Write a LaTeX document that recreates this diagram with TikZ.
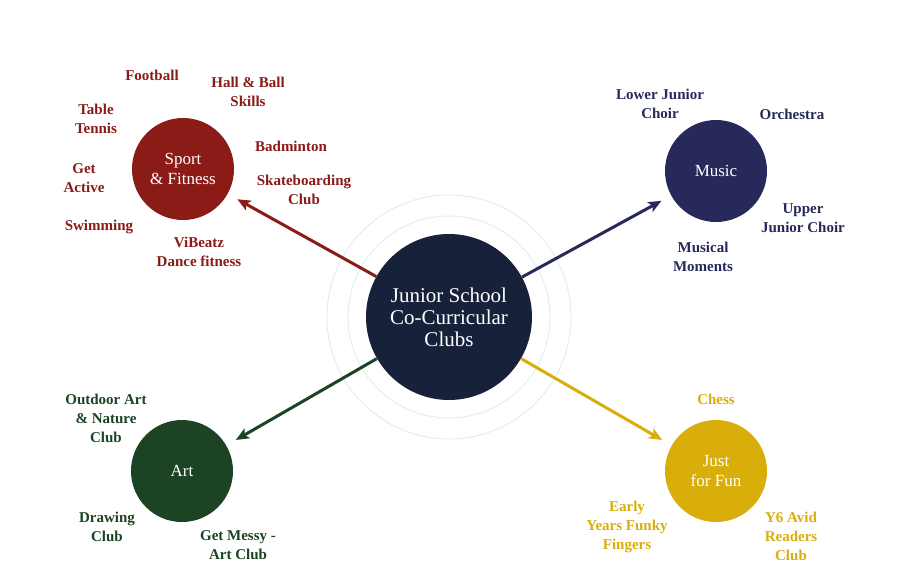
\documentclass[tikz,border=0pt]{standalone}
\usepackage{fontspec}
\setmainfont{Liberation Serif}
\usetikzlibrary{arrows.meta}
\definecolor{cred}{HTML}{8A1B17}
\definecolor{cnavy}{HTML}{26295A}
\definecolor{cgreen}{HTML}{1C4424}
\definecolor{cgold}{HTML}{D9AE0B}
\definecolor{ccenter}{HTML}{18213A}
\definecolor{cring}{HTML}{E2EFF1}
\tikzset{
  hub/.style={circle, fill=#1, draw=none, minimum size=102pt, inner sep=0pt, text=white, align=center, font=\fontsize{17}{20}\selectfont},
  lbl/.style={text=#1, align=center, font=\fontsize{15}{19}\selectfont\bfseries, inner sep=0pt},
  link/.style={draw=#1, line width=3pt, -{Stealth[length=13pt,width=11pt,inset=3pt]}, shorten >=11pt},
  ring/.style={draw=cring, line width=1pt}
}
\begin{document}
\begin{tikzpicture}[x=1pt,y=-1pt]
\useasboundingbox (0,0) rectangle (900,584);
\fill[white] (0,0) rectangle (900,584);
% rings
\draw[ring] (449,317) circle (122);
\draw[ring] (449,317) circle (101);
% center
\node[circle, fill=ccenter, minimum size=166pt, inner sep=0pt, text=white, align=center, font=\fontsize{21}{22}\selectfont] (c) at (449,317) {Junior School\\Co-Curricular\\Clubs};
% hubs
\node[hub=cred] (sport) at (183,169) {Sport\\\& Fitness};
\node[hub=cnavy] (music) at (716,171) {Music};
\node[hub=cgreen] (art) at (182,471) {Art};
\node[hub=cgold] (fun) at (716,471) {Just\\for Fun};
% links
\draw[link=cred] (c) -- (sport);
\draw[link=cnavy] (c) -- (music);
\draw[link=cgreen] (c) -- (art);
\draw[link=cgold] (c) -- (fun);
% sport labels
\node[lbl=cred] (s1) at (152,75) {Football};
\node[lbl=cred] (s2) at (248,92) {Hall \& Ball\\Skills};
\node[lbl=cred] (s3) at (96,119) {Table\\Tennis};
\node[lbl=cred] (s4) at (84,178) {Get\\Active};
\node[lbl=cred] (s5) at (291,146) {Badminton};
\node[lbl=cred] (s6) at (304,190) {Skateboarding\\Club};
\node[lbl=cred] (s7) at (99,227) {Swimming};
\node[lbl=cred] (s8) at (199,252) {ViBeatz\\Dance fitness};
% music labels
\node[lbl=cnavy] (m1) at (660,104) {Lower Junior\\Choir};
\node[lbl=cnavy] (m2) at (792,114) {Orchestra};
\node[lbl=cnavy] (m3) at (803,218) {Upper\\Junior Choir};
\node[lbl=cnavy] (m4) at (703,257) {Musical\\Moments};
% art labels
\node[lbl=cgreen] (a1) at (106,418) {Outdoor Art\\\& Nature\\Club};
\node[lbl=cgreen] (a2) at (107,527) {Drawing\\Club};
\node[lbl=cgreen] (a3) at (238,545) {Get Messy -\\Art Club};
% fun labels
\node[lbl=cgold] (f1) at (716,399) {Chess};
\node[lbl=cgold] (f2) at (627,527) {Early\\Years Funky\\Fingers};
\node[lbl=cgold] (f3) at (791,536) {Y6 Avid\\Readers\\Club};
\end{tikzpicture}
\end{document}
